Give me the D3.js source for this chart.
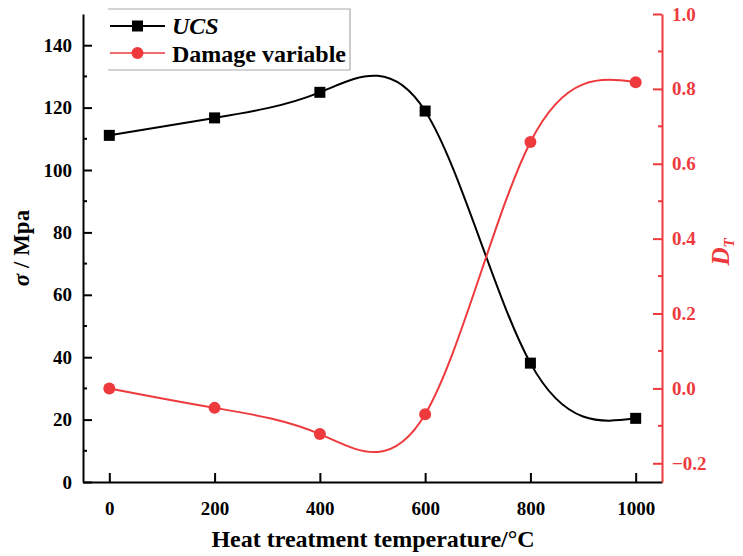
<!DOCTYPE html>
<html><head><meta charset="utf-8">
<script src="https://cdn.jsdelivr.net/npm/d3@7"></script>
<style>body{margin:0;background:#fff}svg{display:block}svg text{font-family:"Liberation Serif","Times New Roman",serif !important;font-weight:bold}</style>
</head><body><svg id="c" width="743" height="556"></svg>
<script>
const temps = [0, 200, 400, 600, 800, 1000];
const ucs = [111.1, 116.7, 124.9, 118.9, 38.1, 20.4];
const damage = [0.0, -0.052, -0.122, -0.069, 0.658, 0.818];
const xTicks = [0, 200, 400, 600, 800, 1000];
const yLeftTicks = [0, 20, 40, 60, 80, 100, 120, 140];
const yRightTicks = [-0.2, 0.0, 0.2, 0.4, 0.6, 0.8, 1.0];
const red = "#ee3a3d";
const FONT = "Liberation Serif, Times New Roman, serif";

const svg = d3.select("#c");
const L = 83, R = 662, T = 14, B = 482;
const x = d3.scaleLinear().domain([-50, 1050]).range([L, R]);
const yL = d3.scaleLinear().domain([0, 150]).range([B, T]);
const yR = d3.scaleLinear().domain([-0.25, 1.0]).range([B, T]);

// axes
const gx = svg.append("g").attr("transform", `translate(0,${B})`)
  .call(d3.axisBottom(x).tickValues(xTicks).tickSize(-9).tickPadding(20).tickSizeOuter(0).tickFormat(d3.format("d")));
const gl = svg.append("g").attr("transform", `translate(${L},0)`)
  .call(d3.axisLeft(yL).tickValues(yLeftTicks).tickSize(-9).tickPadding(20).tickSizeOuter(0).tickFormat(d3.format("d")));
gl.append("g").selectAll("line").data(d3.range(10, 150, 20)).join("line")
  .attr("x1", 0).attr("x2", 4).attr("y1", d => yL(d)).attr("y2", d => yL(d)).attr("stroke", "#000").attr("stroke-width", 2);
const gr = svg.append("g").attr("transform", `translate(${R},0)`)
  .call(d3.axisRight(yR).tickValues(yRightTicks).tickSize(-9).tickPadding(20).tickSizeOuter(0)
    .tickFormat(d => d < 0 ? "\u2212" + Math.abs(d).toFixed(1) : d.toFixed(1)));
gr.append("g").selectAll("line").data([-0.1, 0.1, 0.3, 0.5, 0.7, 0.9]).join("line")
  .attr("x1", 0).attr("x2", -4).attr("y1", d => yR(d)).attr("y2", d => yR(d)).attr("stroke", red).attr("stroke-width", 2);

[gx, gl, gr].forEach(g => g.attr("font-family", FONT));
[gx, gl].forEach(g => {
  g.selectAll("path.domain").attr("stroke", "#000").attr("stroke-width", 2);
  g.selectAll(".tick line").attr("stroke", "#000").attr("stroke-width", 2);
  g.selectAll("text").attr("font-size", 19).attr("fill", "#000");
});
gr.selectAll("path.domain").attr("stroke", red).attr("stroke-width", 2);
gr.selectAll(".tick line").attr("stroke", red).attr("stroke-width", 2);
gr.selectAll("text").attr("font-size", 19).attr("fill", red);
gx.selectAll(".tick text").attr("dy", "0.71em").attr("y", 20);
gl.selectAll(".tick text").attr("x", -11);
gr.selectAll(".tick text").attr("x", 10);

// curves
const lineU = d3.line().curve(d3.curveNatural).x((d, i) => x(temps[i])).y(d => yL(d));
const lineD = d3.line().curve(d3.curveNatural).x((d, i) => x(temps[i])).y(d => yR(d));
svg.append("path").attr("d", lineU(ucs)).attr("fill", "none").attr("stroke", "#000").attr("stroke-width", 2);
svg.append("path").attr("d", lineD(damage)).attr("fill", "none").attr("stroke", red).attr("stroke-width", 2);

svg.append("g").selectAll("rect").data(ucs).join("rect")
  .attr("x", (d, i) => x(temps[i]) - 5.5).attr("y", d => yL(d) - 5.5)
  .attr("width", 11).attr("height", 11).attr("fill", "#000");
svg.append("g").selectAll("circle").data(damage).join("circle")
  .attr("cx", (d, i) => x(temps[i])).attr("cy", d => yR(d)).attr("r", 6).attr("fill", red);

// axis titles
svg.append("text").attr("x", 373).attr("y", 547).attr("text-anchor", "middle")
  .attr("font-size", 24).text("Heat treatment temperature/\u00B0C");
const lt = svg.append("text").attr("transform", "translate(29,248) rotate(-90)").attr("text-anchor", "middle").attr("font-size", 23);
lt.append("tspan").attr("font-style", "italic").text("\u03C3");
lt.append("tspan").text(" / Mpa");
const rt = svg.append("text").attr("transform", "translate(729,252) rotate(-90)").attr("text-anchor", "middle")
  .attr("font-size", 25).attr("fill", red).attr("font-style", "italic");
rt.append("tspan").text("D");
rt.append("tspan").attr("font-size", 15).attr("dy", 5).text("T");

// legend
const lg = svg.append("g");
lg.append("path").attr("d", "M108,9 H350 V70 H108").attr("fill", "none").attr("stroke", "#aaa").attr("stroke-width", 1.2);
lg.append("line").attr("x1", 110).attr("x2", 165).attr("y1", 26).attr("y2", 26).attr("stroke", "#000").attr("stroke-width", 2);
lg.append("rect").attr("x", 132).attr("y", 20.5).attr("width", 11).attr("height", 11).attr("fill", "#000");
lg.append("line").attr("x1", 110).attr("x2", 165).attr("y1", 53).attr("y2", 53).attr("stroke", red).attr("stroke-width", 1.5);
lg.append("circle").attr("cx", 137.5).attr("cy", 53).attr("r", 6).attr("fill", red);
lg.append("text").attr("x", 172).attr("y", 34).attr("font-size", 24).attr("font-style", "italic").text("UCS");
lg.append("text").attr("x", 172).attr("y", 62).attr("font-size", 24).text("Damage variable");
</script></body></html>
